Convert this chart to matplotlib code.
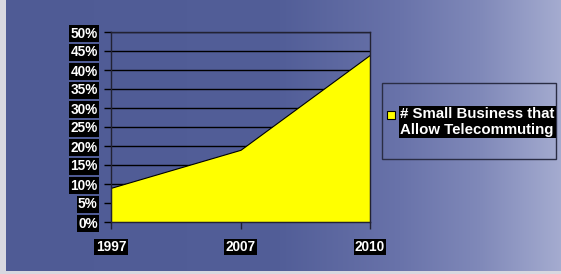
import numpy as np
import matplotlib
matplotlib.use("Agg")
import matplotlib.pyplot as plt
from matplotlib.patches import Rectangle

plt.rcParams['font.family'] = ['Liberation Sans', 'DejaVu Sans']

# data
years = ["1997", "2007", "2010"]
share = [0.09, 0.19, 0.44]
series_name = "# Small Business that\nAllow Telecommuting"
y_ticks = [0.0, 0.05, 0.10, 0.15, 0.20, 0.25, 0.30, 0.35, 0.40, 0.45, 0.50]

W, H = 561, 274
fig = plt.figure(figsize=(W / 100, H / 100), dpi=100)

# slide background: horizontal blue gradient
xs = np.array([0, 280, 400, 480, 561])
cols = np.array([[79, 91, 149], [82, 94, 152], [105, 115, 170],
                 [128, 137, 185], [165, 172, 208]]) / 255
px = np.arange(W)
row = np.stack([np.interp(px, xs, cols[:, k]) for k in range(3)], axis=1)
img = np.tile(row, (H, 1, 1))
img[:, :6] = [0.85, 0.85, 0.88]
img[271:, :] = [0.85, 0.85, 0.88]
bg = fig.add_axes([0, 0, 1, 1], zorder=-10)
bg.imshow(img, aspect="auto", extent=[0, W, H, 0])
bg.axis("off")

# plot area
l, r, t, b = 111, 370, 32, 222
ax = fig.add_axes([l / W, 1 - b / H, (r - l) / W, (b - t) / H])
ax.patch.set_alpha(0)
x = np.arange(len(years))
ax.fill_between(x, 0, share, facecolor="#ffff00", edgecolor="black", linewidth=0.8, zorder=3)
ax.set_xlim(0, len(years) - 1)
ax.set_ylim(0, 0.5)
ax.set_yticks(y_ticks)
ax.set_yticklabels([f"{int(round(v * 100))}%" for v in y_ticks])
ax.set_xticks(x)
ax.set_xticklabels(years)
ax.grid(axis="y", color="black", linewidth=1.0, zorder=1)
ax.set_axisbelow(True)
for s in ax.spines.values():
    s.set_color("#222233")
    s.set_linewidth(1.0)
    s.set_zorder(4)
ax.tick_params(axis="y", direction="out", length=5, width=1, color="black", pad=4.5)
ax.tick_params(axis="x", direction="out", length=5, width=1, color="#222233", pad=8)
for lab in ax.get_yticklabels() + ax.get_xticklabels():
    lab.set_color("white")
    lab.set_fontweight("bold")
    lab.set_fontsize(9.8)
    lab.set_bbox(dict(facecolor="black", edgecolor="none", pad=1.0))

# legend box
fig.add_artist(Rectangle((382 / W, 1 - 159 / H), (556 - 382) / W, (159 - 83) / H,
                         transform=fig.transFigure, facecolor="none",
                         edgecolor="#2a2d44", linewidth=1.0))
fig.add_artist(Rectangle((387 / W, 1 - 119 / H), 8 / W, 8 / H,
                         transform=fig.transFigure, facecolor="#ffff00",
                         edgecolor="black", linewidth=0.8))
fig.text(400 / W, 1 - 122 / H, series_name, color="white", fontsize=10.8,
         fontweight="bold", ha="left", va="center", linespacing=1.15,
         bbox=dict(facecolor="black", edgecolor="none", pad=1.0))

fig.savefig("out.png", dpi=100)
